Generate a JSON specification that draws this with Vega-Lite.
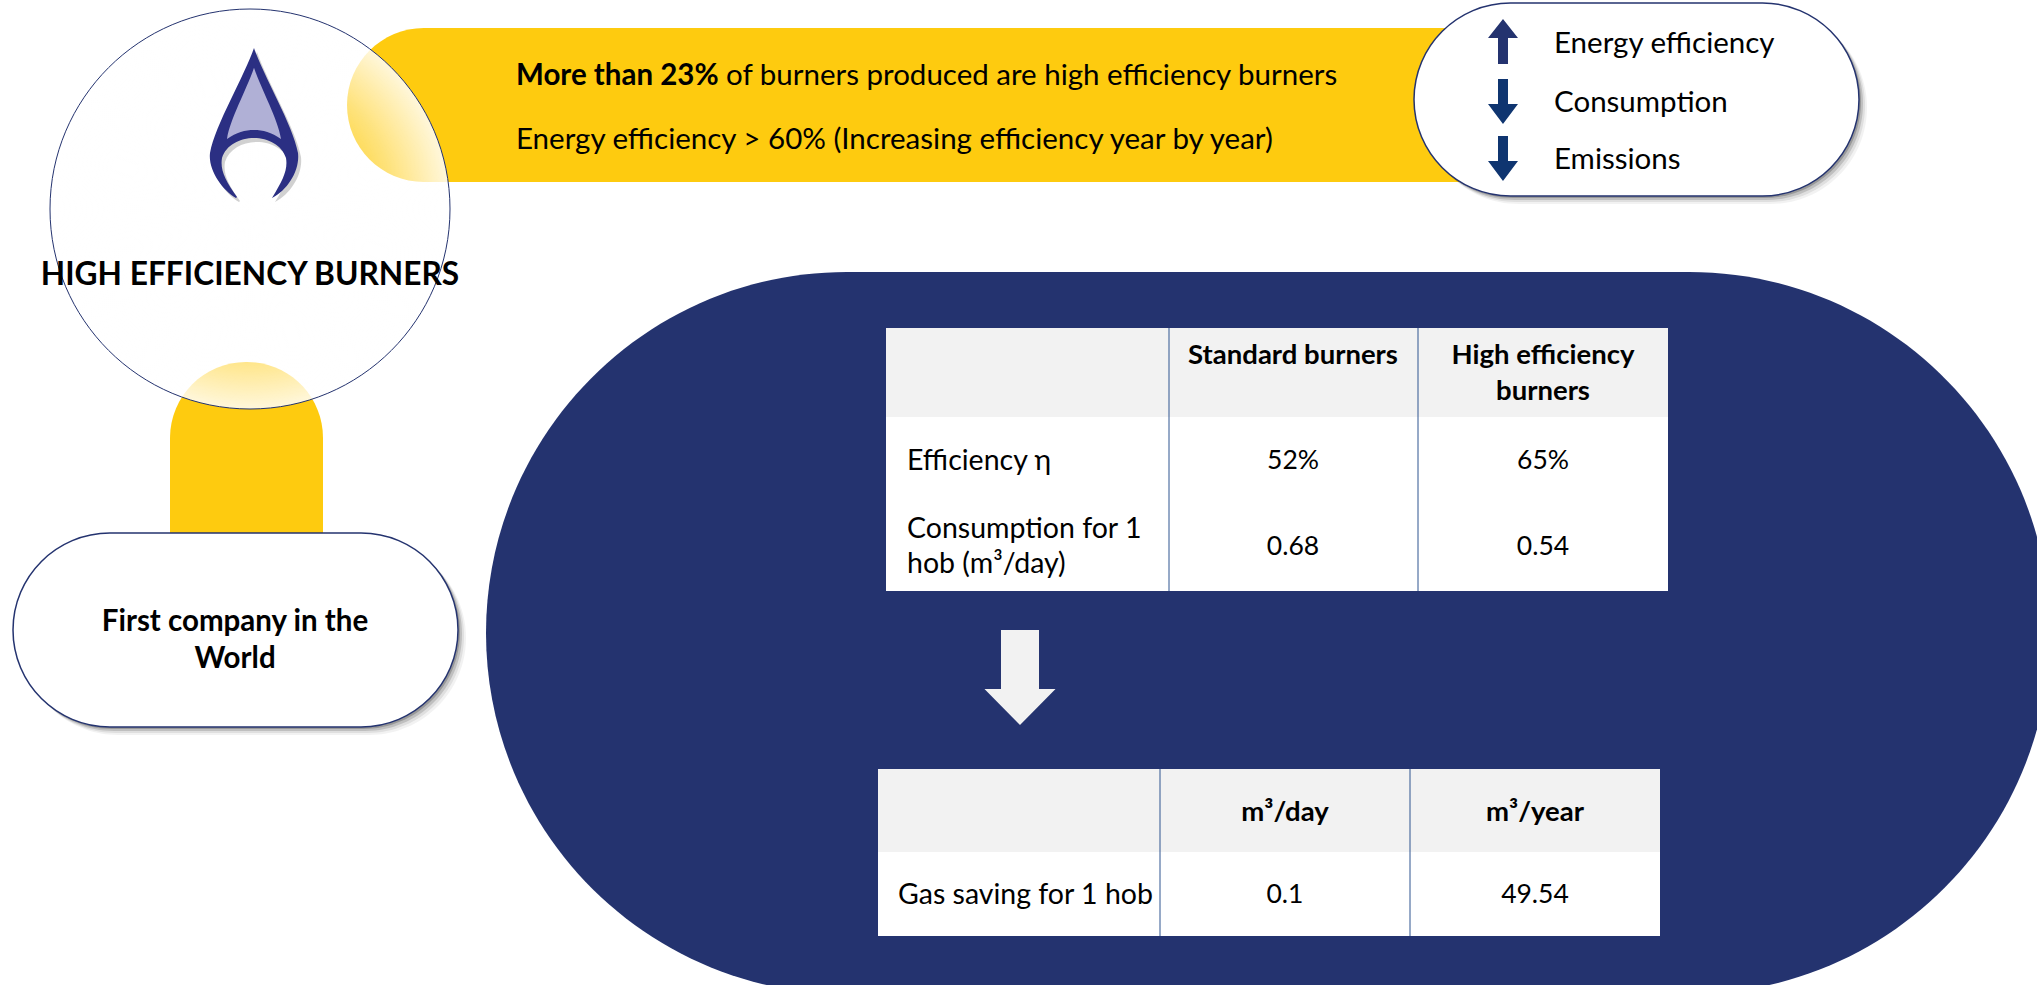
{
"$schema":"https://vega.github.io/schema/vega-lite/v6.json",
"width":2037,"height":985,"padding":0,
"autosize":{"type":"fit","contains":"padding"},
"background":"#ffffff",
"config":{"view":{"stroke":null},"text":{"font":"Lato"}},
"encoding":{
"x":{"field":"x","type":"quantitative","scale":{"domain":[0,2037],"nice":false,"zero":false},"axis":null},
"y":{"field":"y","type":"quantitative","scale":{"domain":[985,0],"nice":false,"zero":false},"axis":null}
},
"layer":[
{"data":{"values":[{"name":"panel","x":486,"x2":2050,"y":272,"y2":994}]},
 "mark":{"type":"rect","clip":true,"color":"#24336f","cornerRadius":361},
 "encoding":{"x2":{"field":"x2"},"y2":{"field":"y2"}}},
{"data":{"values":[{"name":"top band","x":347,"x2":1500,"y":28,"y2":182}]},
 "mark":{"type":"rect","color":"#fecb0f","cornerRadiusTopLeft":77,"cornerRadiusBottomLeft":77},
 "encoding":{"x2":{"field":"x2"},"y2":{"field":"y2"}}},
{"data":{"values":[{"name":"connector","x":170,"x2":323,"y":362,"y2":536}]},
 "mark":{"type":"rect","color":"#fecb0f","cornerRadiusTopLeft":76,"cornerRadiusTopRight":76},
 "encoding":{"x2":{"field":"x2"},"y2":{"field":"y2"}}},
{"data":{"values":[{"name":"table 1 header","x":886,"x2":1668,"y":328,"y2":417},{"name":"table 2 header","x":878,"x2":1660,"y":769,"y2":852}]},
 "mark":{"type":"rect","color":"#f2f2f2"},
 "encoding":{"x2":{"field":"x2"},"y2":{"field":"y2"}}},
{"data":{"values":[{"name":"table 1 body","x":886,"x2":1668,"y":417,"y2":591},{"name":"table 2 body","x":878,"x2":1660,"y":852,"y2":936}]},
 "mark":{"type":"rect","color":"#ffffff"},
 "encoding":{"x2":{"field":"x2"},"y2":{"field":"y2"}}},
{"data":{"values":[{"x":1169,"y":328,"y2":591},{"x":1418,"y":328,"y2":591},{"x":1160,"y":769,"y2":936},{"x":1410,"y":769,"y2":936}]},
 "mark":{"type":"rule","color":"#2f5590","strokeWidth":1},
 "encoding":{"y2":{"field":"y2"}}},
{"data":{"values":[{"name":"circle","x":50,"x2":450,"y":9,"y2":409}]},
 "mark":{"type":"rect","cornerRadius":200,"stroke":"#24336f","strokeWidth":1,"opacity":1,
  "fill":{"gradient":"radial","x1":0.5,"y1":0.5,"r1":0,"x2":0.5,"y2":0.5,"r2":0.5,
   "stops":[{"offset":0,"color":"rgba(255,255,255,1)"},{"offset":0.6,"color":"rgba(255,255,255,0.3)"},{"offset":0.72,"color":"rgba(255,255,255,0.45)"},{"offset":1,"color":"rgba(255,255,255,0.85)"}]}},
 "encoding":{"x2":{"field":"x2"},"y2":{"field":"y2"}}},
{"data":{"values":[{"name":"flame shadow","x":257,"y":127}]},
 "mark":{"type":"point","filled":true,"size":25600,"color":"#000000","opacity":0.18,"strokeWidth":0,
  "shape":"M0,-0.9375 C-0.1125,-0.6 -0.4875,0.025 -0.55,0.375 C-0.575,0.5875 -0.4,0.8375 -0.225,0.9375 L-0.2125,0.925 C-0.3625,0.7125 -0.425,0.5875 -0.4,0.4375 C-0.35,0.275 -0.175,0.1875 0,0.1875 C0.175,0.1875 0.35,0.275 0.4,0.4375 C0.425,0.5875 0.3625,0.7125 0.225,0.9375 C0.425,0.8375 0.575,0.5875 0.55,0.375 C0.4875,0.025 0.1125,-0.6 0,-0.9375 Z"}},
{"data":{"values":[{"name":"flame","x":254,"y":123}]},
 "mark":{"type":"point","filled":true,"size":25600,"color":"#2b2f83","opacity":1,"strokeWidth":0,
  "shape":"M0,-0.9375 C-0.1125,-0.6 -0.4875,0.025 -0.55,0.375 C-0.575,0.5875 -0.4,0.8375 -0.225,0.9375 L-0.2125,0.925 C-0.3625,0.7125 -0.425,0.5875 -0.4,0.4375 C-0.35,0.275 -0.175,0.1875 0,0.1875 C0.175,0.1875 0.35,0.275 0.4,0.4375 C0.425,0.5875 0.3625,0.7125 0.225,0.9375 C0.425,0.8375 0.575,0.5875 0.55,0.375 C0.4875,0.025 0.1125,-0.6 0,-0.9375 Z"}},
{"data":{"values":[{"name":"flame core","x":254,"y":123}]},
 "mark":{"type":"point","filled":true,"size":25600,"color":"#b0b0d6","opacity":1,"strokeWidth":0,
  "shape":"M0,-0.69 C-0.1,-0.4 -0.3,-0.05 -0.3375,0.2 C-0.22,0.115 -0.11,0.0875 0,0.0875 C0.11,0.0875 0.22,0.115 0.3375,0.2 C0.3,-0.05 0.1,-0.4 0,-0.69 Z"}},
{"data":{"values":[{"name":"pill right","x":1422,"x2":1867,"y":11,"y2":204},{"name":"pill left","x":21,"x2":466,"y":541,"y2":735}]},
 "mark":{"type":"rect","color":"#000000","opacity":0.05,"cornerRadius":97},
 "encoding":{"x2":{"field":"x2"},"y2":{"field":"y2"}}},
{"data":{"values":[{"name":"pill right","x":1420,"x2":1865,"y":9,"y2":202},{"name":"pill left","x":19,"x2":464,"y":539,"y2":733}]},
 "mark":{"type":"rect","color":"#000000","opacity":0.08,"cornerRadius":97},
 "encoding":{"x2":{"field":"x2"},"y2":{"field":"y2"}}},
{"data":{"values":[{"name":"pill right","x":1418,"x2":1863,"y":7,"y2":200},{"name":"pill left","x":17,"x2":462,"y":537,"y2":731}]},
 "mark":{"type":"rect","color":"#000000","opacity":0.14,"cornerRadius":97},
 "encoding":{"x2":{"field":"x2"},"y2":{"field":"y2"}}},
{"data":{"values":[{"name":"pill right","x":1416,"x2":1861,"y":5,"y2":198},{"name":"pill left","x":15,"x2":460,"y":535,"y2":729}]},
 "mark":{"type":"rect","color":"#000000","opacity":0.2,"cornerRadius":97},
 "encoding":{"x2":{"field":"x2"},"y2":{"field":"y2"}}},
{"data":{"values":[{"name":"pill right","x":1414,"x2":1859,"y":3,"y2":196},{"name":"pill left","x":13,"x2":458,"y":533,"y2":727}]},
 "mark":{"type":"rect","fill":"#ffffff","stroke":"#24336f","strokeWidth":1.5,"opacity":1,"cornerRadius":97},
 "encoding":{"x2":{"field":"x2"},"y2":{"field":"y2"}}},
{"data":{"values":[{"name":"up","x":1503,"y":41.5}]},
 "mark":{"type":"point","filled":true,"size":2116,"color":"#24336f","opacity":1,"strokeWidth":0,
  "shape":"M0,-0.978 L0.652,-0.152 L0.217,-0.152 L0.217,0.978 L-0.217,0.978 L-0.217,-0.152 L-0.652,-0.152 Z"}},
{"data":{"values":[{"name":"consumption","x":1503,"y":101.5},{"name":"emissions","x":1503,"y":158.5}]},
 "mark":{"type":"point","filled":true,"size":2116,"color":"#0f3570","opacity":1,"strokeWidth":0,
  "shape":"M-0.217,-0.978 L0.217,-0.978 L0.217,0.109 L0.652,0.109 L0,0.978 L-0.652,0.109 L-0.217,0.109 Z"}},
{"data":{"values":[{"name":"saving","x":1020,"y":677.5}]},
 "mark":{"type":"point","filled":true,"size":9216,"color":"#f2f2f2","opacity":1,"strokeWidth":0,
  "shape":"M-0.396,-0.99 L0.396,-0.99 L0.396,0.24 L0.74,0.24 L0,0.99 L-0.74,0.24 L-0.396,0.24 Z"}},
{"data":{"values":[{"label":"HIGH EFFICIENCY BURNERS","x":250,"y":275}]},
 "mark":{"type":"text","font":"Lato","fontWeight":"bold","fontSize":31.7,"color":"#000000","align":"center","baseline":"middle"},
 "encoding":{"text":{"field":"label"}}},
{"data":{"values":[{"label":"First company in the","x":235,"y":622},{"label":"World","x":235,"y":659}]},
 "mark":{"type":"text","font":"Lato","fontWeight":"bold","fontSize":29.5,"color":"#000000","align":"center","baseline":"middle"},
 "encoding":{"text":{"field":"label"}}},
{"data":{"values":[{"label":"More than 23%","x":516,"y":76}]},
 "mark":{"type":"text","font":"Lato","fontWeight":"bold","fontSize":29.5,"color":"#000000","align":"left","baseline":"middle"},
 "encoding":{"text":{"field":"label"}}},
{"data":{"values":[{"label":"of burners produced are high efficiency burners","x":726,"y":76},{"label":"Energy efficiency > 60% (Increasing efficiency year by year)","x":516,"y":140},{"label":"Energy efficiency","x":1554,"y":44},{"label":"Consumption","x":1554,"y":103},{"label":"Emissions","x":1554,"y":160}]},
 "mark":{"type":"text","font":"Lato","fontSize":29.5,"color":"#000000","align":"left","baseline":"middle"},
 "encoding":{"text":{"field":"label"}}},
{"data":{"values":[{"label":"Standard burners","x":1293,"y":356},{"label":"High efficiency","x":1543,"y":356},{"label":"burners","x":1543,"y":392},{"label":"m³/day","x":1285,"y":813},{"label":"m³/year","x":1535,"y":813}]},
 "mark":{"type":"text","font":"Lato","fontWeight":"bold","fontSize":27.5,"color":"#000000","align":"center","baseline":"middle"},
 "encoding":{"text":{"field":"label"}}},
{"data":{"values":[{"label":"52%","x":1293,"y":461},{"label":"65%","x":1543,"y":461},{"label":"0.68","x":1293,"y":547},{"label":"0.54","x":1543,"y":547},{"label":"0.1","x":1285,"y":895},{"label":"49.54","x":1535,"y":895}]},
 "mark":{"type":"text","font":"Lato","fontSize":26.5,"color":"#000000","align":"center","baseline":"middle"},
 "encoding":{"text":{"field":"label"}}},
{"data":{"values":[{"label":"Efficiency η","x":907,"y":461},{"label":"Consumption for 1","x":907,"y":529},{"label":"hob (m³/day)","x":907,"y":564},{"label":"Gas saving for 1 hob","x":898,"y":895}]},
 "mark":{"type":"text","font":"Lato","fontSize":28.5,"color":"#000000","align":"left","baseline":"middle"},
 "encoding":{"text":{"field":"label"}}}
]
}
